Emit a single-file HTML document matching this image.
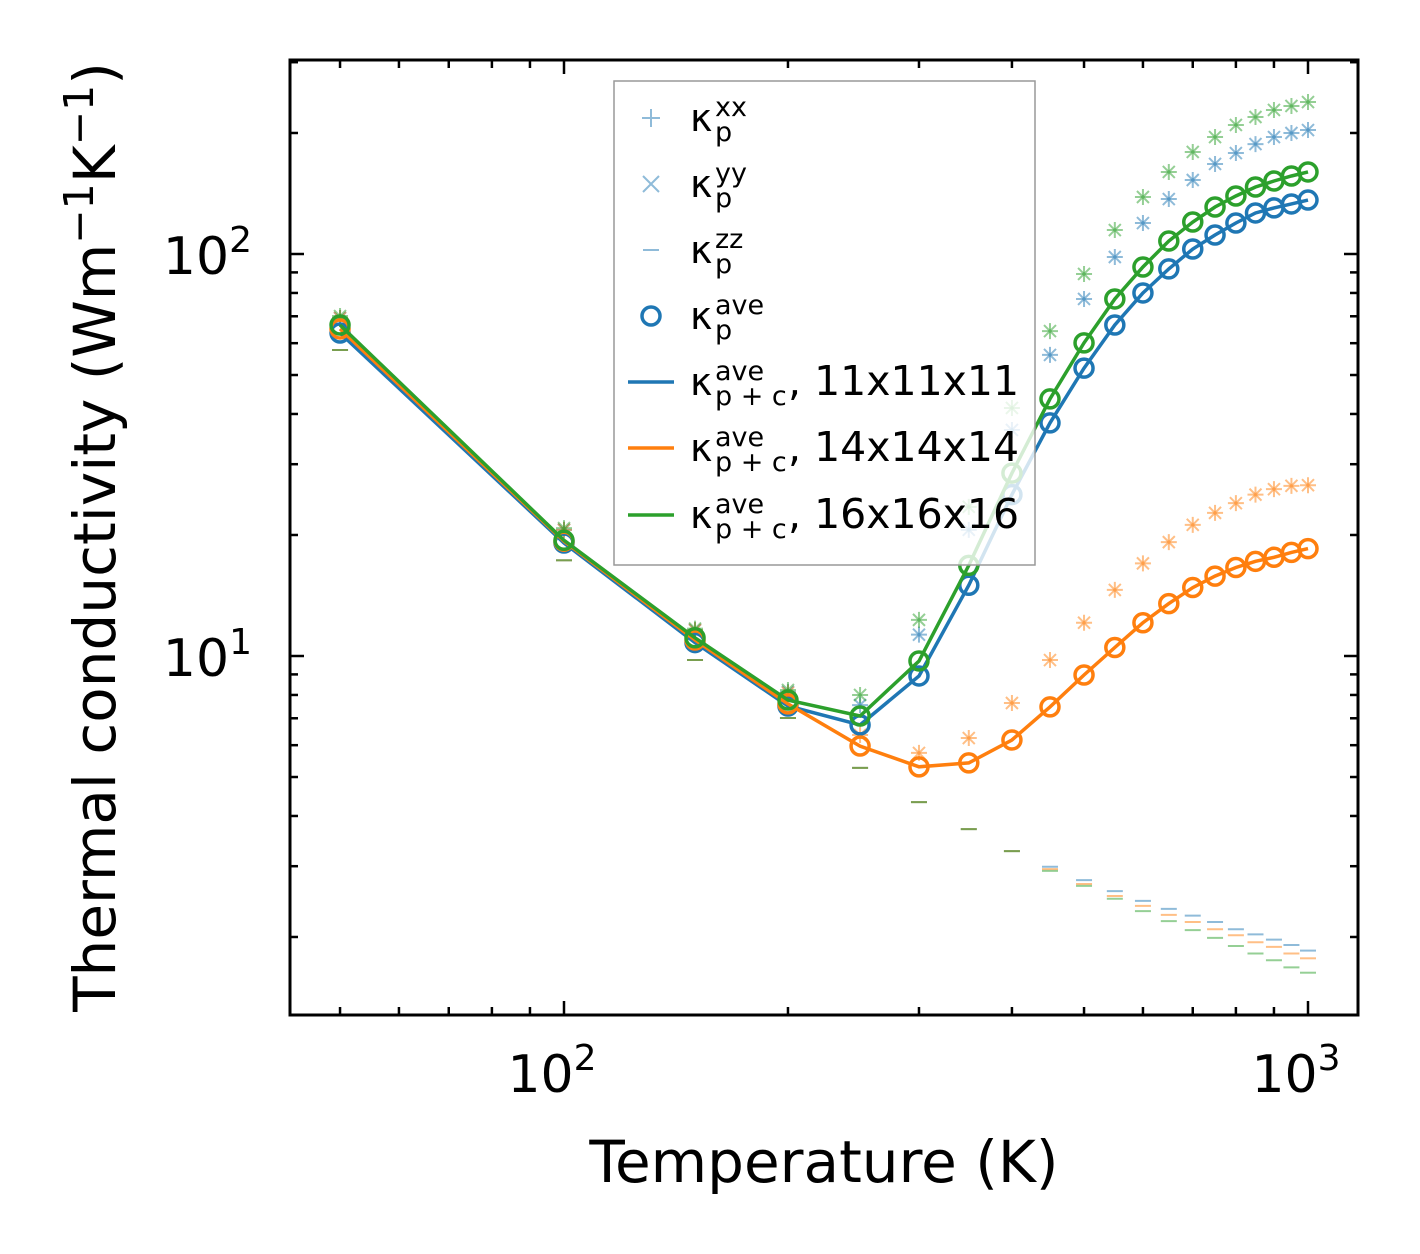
<!DOCTYPE html>
<html><head><meta charset="utf-8"><style>
html,body{margin:0;padding:0;background:#fff;overflow:hidden;}
svg{display:block;font-family:"DejaVu Sans","Liberation Sans",sans-serif;}
</style></head><body>
<svg id="chart" width="1420" height="1254" viewBox="0 0 1420 1254" xmlns="http://www.w3.org/2000/svg">
<rect x="0" y="0" width="1420" height="1254" fill="#fff"/>
<g id="marks"></g>
<g id="axes"></g>
<text x="824" y="1182" font-size="58" text-anchor="middle" fill="#000">Temperature (K)</text>
<text transform="translate(115,537) rotate(-90)" font-size="58" text-anchor="middle" fill="#000">Thermal conductivity (Wm<tspan dy="-22" font-size="41">−1</tspan><tspan dy="22">K</tspan><tspan dy="-22" font-size="41">−1</tspan><tspan dy="22">)</tspan></text>
</svg>
<script>
const temps = [50,100,150,200,250,300,350,400,450,500,550,600,650,700,750,800,850,900,950,1000];
const aveBlue = [63.6,19.1,10.8,7.51,6.74,8.92,15.0,25.2,38.0,52.0,66.6,80.0,91.8,102.9,111.5,119.4,126.5,130.2,133.2,136.2];
const aveOrange = [65.1,19.3,10.96,7.60,5.97,5.30,5.42,6.18,7.47,8.97,10.5,12.1,13.5,14.8,15.8,16.6,17.2,17.6,18.1,18.5];
const aveGreen = [66.6,19.4,11.1,7.77,7.09,9.72,16.8,28.5,43.6,60.1,77.3,92.8,107.7,120.1,130.9,139.4,146.8,151.9,156.3,160.0];
const xxBlue = [69.3,20.6,11.6,8.14,7.55,11.3,20.6,36.5,56.1,77.3,98.3,119.4,137.0,152.8,167.5,178.3,187.7,195.4,200,203.4];
const xxOrange = [69.3,20.6,11.6,8.1,6.36,5.74,6.25,7.64,9.77,12.1,14.6,17.0,19.2,21.2,22.7,24.0,25.2,26.0,26.5,26.6];
const xxGreen = [70.1,20.8,11.7,8.23,8.0,12.3,23.5,41.4,64.3,89.2,114.7,138.6,160.0,179.4,195.4,209.4,219.2,228.2,233.5,238.8];
const yyBlue = xxBlue.slice();
const yyOrange = xxOrange.slice();
const yyGreen = xxGreen.slice();
const zzBlue = [57.7,17.3,9.77,7.01,5.27,4.33,3.71,3.27,2.99,2.77,2.60,2.46,2.35,2.26,2.18,2.09,2.03,1.97,1.91,1.85];
const zzOrange = [57.7,17.3,9.77,7.01,5.27,4.33,3.71,3.27,2.95,2.71,2.53,2.39,2.27,2.18,2.09,2.02,1.94,1.89,1.82,1.77];
const zzGreen = [57.7,17.3,9.77,7.01,5.27,4.33,3.71,3.27,2.92,2.68,2.49,2.32,2.19,2.08,1.99,1.90,1.82,1.75,1.68,1.63];
const xMajorTicks = [100,1000];
const xMajorLabels = ["2","3"];
const yMajorTicks = [10,100];
const yMajorLabels = ["1","2"];

const NS = "http://www.w3.org/2000/svg";
const PL=290, PR=1358, PT=60, PB=1015;
function xs(t){ return 564 + 744*(Math.log10(t)-2); }
function ys(v){ return 656 - 402*(Math.log10(v)-1); }
function mk(tag, attrs, parent){ const e=document.createElementNS(NS,tag); for(const k in attrs) e.setAttribute(k,attrs[k]); parent.appendChild(e); return e; }
const marks=document.getElementById('marks');
const axes=document.getElementById('axes');
const C={blue:'#1f77b4',orange:'#ff7f0e',green:'#2ca02c'};
const series=[
 {n:'11',c:C.blue,ave:aveBlue,xx:xxBlue,yy:yyBlue,zz:zzBlue},
 {n:'14',c:C.orange,ave:aveOrange,xx:xxOrange,yy:yyOrange,zz:zzOrange},
 {n:'16',c:C.green,ave:aveGreen,xx:xxGreen,yy:yyGreen,zz:zzGreen}
];
const clip=mk('clipPath',{id:'pc'},mk('defs',{},marks));
mk('rect',{x:PL,y:PT,width:PR-PL,height:PB-PT},clip);
const g=mk('g',{'clip-path':'url(#pc)'},marks);
series.forEach(s=>{
  temps.forEach((t,i)=>{
    const x=xs(t);
    let y=ys(s.xx[i]);
    const p=mk('path',{d:`M${x-8} ${y}H${x+8}M${x} ${y-8}V${y+8}`,stroke:s.c,'stroke-width':2,'stroke-opacity':0.5,fill:'none'},g);
    
    
    y=ys(s.yy[i]);
    const q=mk('path',{d:`M${x-6} ${y-6}L${x+6} ${y+6}M${x-6} ${y+6}L${x+6} ${y-6}`,stroke:s.c,'stroke-width':2,'stroke-opacity':0.5,fill:'none'},g);
    
    
    y=ys(s.zz[i]);
    const z=mk('path',{d:`M${x-8} ${y}H${x+8}`,stroke:s.c,'stroke-width':2,'stroke-opacity':0.5,fill:'none'},g);
    
    
  });
});
series.forEach(s=>{
  const pts=temps.map((t,i)=>xs(t).toFixed(1)+','+ys(s.ave[i]).toFixed(1)).join(' ');
  const l=mk('polyline',{points:pts,fill:'none',stroke:s.c,'stroke-width':3.5},g);
  
  
  temps.forEach((t,i)=>{
    const c=mk('circle',{cx:xs(t),cy:ys(s.ave[i]),r:9,fill:'none',stroke:s.c,'stroke-width':3.5},g);
    
    
  });
});
const lg=mk('g',{},axes);


mk('rect',{x:614,y:81,width:421,height:484,fill:'#fff','fill-opacity':0.8,stroke:'#999','stroke-width':1.5},lg);
const lx=651, tx=690;
const entries=[
 {sup:'xx',sub:'p',y:118,kind:'plus'},
 {sup:'yy',sub:'p',y:184,kind:'x'},
 {sup:'zz',sub:'p',y:250,kind:'dash'},
 {sup:'ave',sub:'p',y:316,kind:'circle'},
 {sup:'ave',sub:'p + c',y:382,kind:'line',c:C.blue,txt:', 11x11x11'},
 {sup:'ave',sub:'p + c',y:448,kind:'line',c:C.orange,txt:', 14x14x14'},
 {sup:'ave',sub:'p + c',y:515,kind:'line',c:C.green,txt:', 16x16x16'}
];
entries.forEach(e=>{
  const eg=mk('g',{},lg);
  
  
  const y=e.y, lc='rgba(31,119,180,0.5)';
  if(e.kind==='plus') mk('path',{d:`M${lx-9} ${y}H${lx+9}M${lx} ${y-9}V${y+9}`,stroke:lc,'stroke-width':2},eg);
  if(e.kind==='x') mk('path',{d:`M${lx-8} ${y-8}L${lx+8} ${y+8}M${lx-8} ${y+8}L${lx+8} ${y-8}`,stroke:lc,'stroke-width':2},eg);
  if(e.kind==='dash') mk('path',{d:`M${lx-8} ${y}H${lx+8}`,stroke:lc,'stroke-width':2},eg);
  if(e.kind==='circle') mk('circle',{cx:lx,cy:y,r:9,fill:'none',stroke:C.blue,'stroke-width':3.5},eg);
  if(e.kind==='line') mk('path',{d:`M628 ${y}H674`,stroke:e.c,'stroke-width':3.5},eg);
  const t=mk('text',{x:tx,y:y+13,'font-size':38,fill:'#000'},eg);
  t.textContent='κ';
  const sp=mk('tspan',{x:tx+25,y:y-2,'font-size':27},t); sp.textContent=e.sup;
  const sb=mk('tspan',{x:tx+25,y:y+23,'font-size':27},t); sb.textContent=e.sub;
  if(e.txt){ const r=mk('tspan',{x:tx+98,y:y+13,'font-size':41},t); r.textContent=e.txt; }
});
const fr=mk('rect',{x:PL,y:PT,width:PR-PL,height:PB-PT,fill:'none',stroke:'#000','stroke-width':3},axes);


function tick(x1,y1,x2,y2){ mk('line',{x1,y1,x2,y2,stroke:'#000','stroke-width':2.5},axes); }
for(let d=10; d<=1000; d*=10){ for(let m=1;m<10;m++){ const v=d*m; const x=xs(v); if(x<PL||x>PR) continue; const L=(m===1)?14:8; tick(x,PB,x,PB-L); tick(x,PT,x,PT+L);} }
for(let d=1; d<=1000; d*=10){ for(let m=1;m<10;m++){ const v=d*m; const y=ys(v); if(y<PT||y>PB) continue; const L=(m===1)?14:8; tick(PL,y,PL+L,y); tick(PR,y,PR-L,y);} }
xMajorTicks.forEach((v,i)=>{
  const t=mk('text',{x:xs(v)-12,y:1092,'font-size':52,'text-anchor':'middle',fill:'#000'},axes);
  
  
  t.textContent='10';
  const s=mk('tspan',{dy:-22,'font-size':36},t); s.textContent=xMajorLabels[i];
});
yMajorTicks.forEach((v,i)=>{
  const t=mk('text',{x:252,y:ys(v)+20,'font-size':52,'text-anchor':'end',fill:'#000'},axes);
  
  
  t.textContent='10';
  const s=mk('tspan',{dy:-22,'font-size':36},t); s.textContent=yMajorLabels[i];
});
</script>
</body></html>
